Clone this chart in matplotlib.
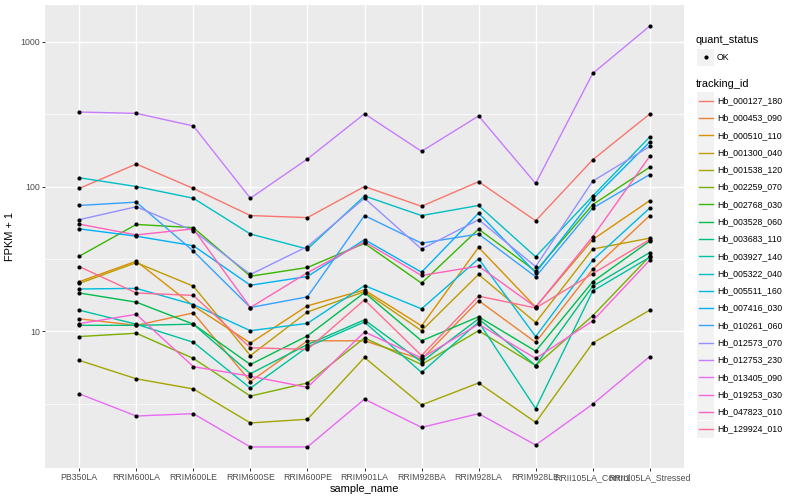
import numpy as np
import matplotlib
matplotlib.use("Agg")
import matplotlib.pyplot as plt
from matplotlib.patches import Rectangle

plt.rcParams['font.family'] = ['Liberation Sans', 'DejaVu Sans']

samples = ["PB350LA", "RRIM600LA", "RRIM600LE", "RRIM600SE", "RRIM600PE",
           "RRIM901LA", "RRIM928BA", "RRIM928LA", "RRIM928LE",
           "RRII105LA_Control", "RRII105LA_Stressed"]

tracking_ids = ["Hb_000127_180", "Hb_000453_090", "Hb_000510_110", "Hb_001300_040",
                "Hb_001538_120", "Hb_002259_070", "Hb_002768_030", "Hb_003528_060",
                "Hb_003683_110", "Hb_003927_140", "Hb_005322_040", "Hb_005511_160",
                "Hb_007416_030", "Hb_010261_060", "Hb_012573_070", "Hb_012753_230",
                "Hb_013405_090", "Hb_019253_030", "Hb_047823_010", "Hb_129924_010"]

# ggplot hue palette for 20 levels
colors = ["#F8766D", "#EA8331", "#D89000", "#C09B00", "#A3A500", "#7CAE00",
          "#39B600", "#00BB4E", "#00BF7D", "#00C1A3", "#00BFC4", "#00BAE0",
          "#00B0F6", "#35A2FF", "#9590FF", "#C77CFF", "#E76BF3", "#FA62DB",
          "#FF62BC", "#FF6C91"]

# FPKM + 1, one row per tracking id, one column per sample
fpkm = [
    [97, 143, 97, 63, 61, 100, 73, 108, 58, 153, 317],
    [12.2, 11.0, 13.4, 4.5, 8.6, 8.6, 6.4, 16.3, 8.4, 26.8, 63],
    [22, 30.5, 15, 8.3, 15, 19.3, 10.9, 38, 14.7, 43, 80],
    [21.4, 29.8, 20.5, 6.8, 13.6, 18.8, 10.1, 24.7, 11.5, 37, 44],
    [6.3, 4.7, 4.0, 2.33, 2.47, 6.6, 3.1, 4.4, 2.35, 8.3, 14],
    [9.2, 9.7, 6.5, 3.57, 4.4, 9.0, 5.9, 10.1, 5.8, 12.8, 33],
    [33, 54.7, 52, 24, 27.6, 40.5, 21.5, 50.8, 26, 75, 136],
    [18.4, 15.9, 11.2, 5.9, 9.3, 18.5, 8.6, 12.6, 7.3, 22, 42],
    [11.0, 11.0, 11.2, 5.1, 8.1, 12.0, 6.15, 12.2, 5.8, 20.5, 35],
    [14, 11.2, 8.4, 4.05, 7.8, 11.6, 5.2, 11.6, 2.93, 19, 32.5],
    [115, 100, 83, 47, 37, 86, 63, 74, 32.7, 86, 220],
    [19.6, 19.8, 15.3, 10.1, 11.35, 20.7, 14.3, 31.7, 9.2, 31, 71],
    [51, 45.4, 39, 20.8, 23.9, 43, 25.6, 65.5, 25.4, 82, 203],
    [74, 78, 35.8, 14.6, 17.3, 63, 40.6, 47, 23.8, 71, 121],
    [59, 72.5, 49.5, 24.7, 38.5, 83, 37, 59, 28, 109, 189],
    [327, 320, 262, 83, 155, 318, 175, 307, 105, 604, 1283],
    [3.7, 2.6, 2.7, 1.59, 1.59, 3.4, 2.17, 2.7, 1.64, 3.14, 6.7],
    [11.3, 13.1, 5.7, 4.9, 4.1, 9.9, 6.55, 11.2, 6.5, 11.8, 31],
    [55, 46.3, 51, 14.6, 25.4, 41.5, 24.3, 28.2, 14.7, 45, 162],
    [28, 18.4, 17.7, 7.7, 7.5, 16.5, 6.8, 17.5, 14.5, 25, 43],
]

fig = plt.figure(figsize=(8, 5), dpi=100)
ax = fig.add_axes([45 / 800, 1 - 468 / 500, (684 - 45) / 800, (468 - 5) / 500])
ax.set_facecolor("#EBEBEB")
for s in ax.spines.values():
    s.set_visible(False)

x = np.arange(len(samples))
for vals, c in zip(fpkm, colors):
    ax.plot(x, vals, color=c, lw=1.0, zorder=3)
for vals in fpkm:
    ax.plot(x, vals, 'o', color='black', ms=3.0, zorder=4, markeredgewidth=0)

ax.set_yscale('log')
lo = np.log10(np.min(fpkm))
hi = np.log10(np.max(fpkm))
pad = (hi - lo) * 0.05
ax.set_ylim(10 ** (lo - pad), 10 ** (hi + pad))
ax.set_xlim(-0.6, len(samples) - 0.4)

ax.set_yticks([10, 100, 1000])
ax.set_yticklabels(["10", "100", "1000"])
ax.set_yticks([10 ** 0.5, 10 ** 1.5, 10 ** 2.5], minor=True)
ax.set_xticks(x)
ax.set_xticklabels(samples)

ax.grid(True, which='major', color='white', lw=1.0, zorder=1)
ax.grid(True, which='minor', axis='y', color='white', lw=0.5, zorder=1)
ax.set_axisbelow(True)
ax.tick_params(which='major', length=2.2, width=0.7, color='#333333',
               labelsize=6.3, labelcolor='#4D4D4D', pad=1.5)
ax.tick_params(which='minor', length=0)

ax.set_xlabel("sample_name", fontsize=7.9, labelpad=1)
ax.set_ylabel("FPKM + 1", fontsize=7.9, labelpad=4)

# legend drawn in pixel coordinates
lg = fig.add_axes([0, 0, 1, 1], zorder=10)
lg.set_xlim(0, 800)
lg.set_ylim(500, 0)
lg.axis('off')

lg.text(696, 40, "quant_status", fontsize=7.9, va='center', ha='left')
lg.add_patch(Rectangle((697, 48.5), 17, 17, color="#F2F2F2", lw=0))
lg.plot(705.5, 57, 'o', color='black', ms=3.0, markeredgewidth=0)
lg.text(717, 57, "OK", fontsize=6.3, va='center', ha='left')

lg.text(696, 84, "tracking_id", fontsize=7.9, va='center', ha='left')
step = 17.28
for i, (tid, c) in enumerate(zip(tracking_ids, colors)):
    yc = 100.8 + i * step
    lg.add_patch(Rectangle((697, yc - 8.6), 17, 17.2, color="#F2F2F2", lw=0))
    lg.plot([698.5, 712.5], [yc, yc], color=c, lw=1.0)
    lg.text(717, yc, tid, fontsize=6.3, va='center', ha='left')

fig.savefig("out.png", dpi=100)
